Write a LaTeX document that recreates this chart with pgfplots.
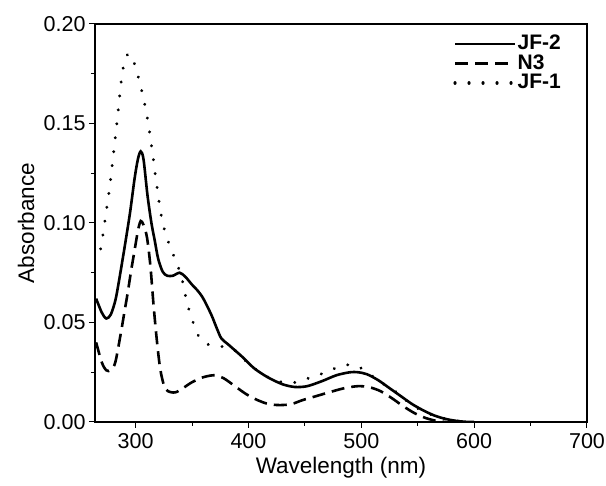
\documentclass[border=0pt]{standalone}
\usepackage{pgfplots}
\pgfplotsset{compat=1.18}
\usepackage{fontspec}
\setmainfont{Liberation Sans}
\begin{document}
\begin{tikzpicture}
\useasboundingbox (-95pt,-64pt) rectangle (511pt,422pt);
\begin{axis}[
  at={(0,0)}, anchor=south west,
  scale only axis, width=492pt, height=398pt,
  xmin=264, xmax=700, ymin=0, ymax=0.20,
  xtick={300,400,500,600,700},
  minor xtick={350,450,550,650},
  ytick={0,0.05,0.10,0.15,0.20},
  minor ytick={0.025,0.075,0.125,0.175},
  yticklabel style={/pgf/number format/.cd,fixed,fixed zerofill,precision=2},
  /pgf/number format/assume math mode=true,
  tick align=outside, xtick pos=left, ytick pos=left,
  major tick length=6pt, minor tick length=4pt,
  tick style={black, line width=1pt},
  axis line style={line width=1.2pt},
  tick label style={font=\fontsize{21.5}{25}\selectfont},
  label style={font=\fontsize{22.5}{27}\selectfont},
  xlabel={Wavelength (nm)}, ylabel={Absorbance},
  xlabel style={at={(axis description cs:0.5,0)}, anchor=center, yshift=-46pt},
  ylabel style={at={(axis description cs:-0.140,0.5)}, anchor=center},
  xticklabel style={yshift=-2pt},
  legend style={at={(axis description cs:1,1)}, anchor=north east, xshift=-22pt, yshift=-8pt,
    draw=none, fill=none, font=\fontsize{21}{25}\selectfont\bfseries,
    nodes={inner sep=1pt, text height=14.5pt, text depth=3pt}},
  legend cell align=left,
  legend image code/.code={\draw[#1] (0pt,0pt) -- (60pt,0pt);},
]
\addplot[black, line width=2.6pt, smooth] coordinates {
(265,0.062) (270,0.055) (274,0.052) (278,0.054) (282,0.061) (285,0.070) (290,0.087)
(295,0.105) (299,0.122) (302,0.132) (304.5,0.136) (307,0.132) (310.5,0.114) (314,0.100)
(317,0.091) (320,0.082) (324,0.0755) (328,0.0735) (333,0.0735) (339,0.075) (344,0.073)
(350,0.069) (355,0.066) (360,0.062) (367,0.054) (372,0.047) (376,0.042) (382,0.039)
(388,0.036) (395,0.0325) (405,0.027) (417,0.0225) (430,0.019) (441,0.0176) (452,0.018)
(465,0.0205) (478,0.0235) (490,0.025) (497,0.025) (505,0.024) (515,0.021) (525,0.017)
(535,0.013) (545,0.009) (555,0.0058) (565,0.0032) (575,0.0015) (585,0.0005) (595,0) (600,0)
};
\addlegendentry{JF-2}
\addplot[black, line width=2.6pt, dash pattern=on 13pt off 7pt, smooth] coordinates {
(265,0.040) (270,0.030) (274,0.026) (278,0.026) (282,0.030) (287,0.045) (290,0.055)
(293,0.065) (296,0.076) (299,0.086) (302,0.096) (304.5,0.101) (307,0.099) (310,0.093)
(313,0.079) (316,0.058) (319,0.040) (322,0.026) (326,0.017) (331,0.015) (336,0.015)
(342,0.017) (350,0.020) (360,0.0225) (370,0.0235) (378,0.022) (388,0.018) (398,0.014)
(408,0.011) (418,0.009) (428,0.0085) (438,0.009) (448,0.011) (460,0.013) (472,0.015)
(485,0.017) (497,0.018) (507,0.0175) (517,0.0155) (527,0.012) (537,0.008) (547,0.0045)
(557,0.002) (567,0.0005) (575,0)
};
\addlegendentry{N3}
\addplot[black, line width=3.2pt, line cap=round, dash pattern=on 0.01pt off 14pt, smooth] coordinates {
(269,0.087) (271,0.094) (274,0.106) (277,0.118) (280,0.133) (283,0.148) (285,0.159)
(287,0.170) (289,0.178) (292,0.184) (295,0.185) (299,0.180) (303,0.172) (306,0.165)
(309,0.157) (311.5,0.149) (313.5,0.141) (315.5,0.133) (317.5,0.124) (319.5,0.116)
(321.5,0.108) (324,0.100) (327.5,0.093) (332,0.086) (337,0.079) (341,0.072) (344,0.064)
(347,0.057) (351,0.050) (355,0.044) (360,0.040) (366,0.0387) (375,0.038) (382,0.0375)
(388,0.036) (395,0.032) (405,0.027) (417,0.0226) (430,0.020) (443,0.020) (456,0.0226)
(469,0.025) (481,0.028) (492,0.0288) (500,0.027) (506,0.0246) (515,0.021) (525,0.017)
(532,0.0146) (545,0.0085) (555,0.0055) (565,0.003) (575,0.0015) (585,0.0005) (595,0)
};
\addlegendentry{JF-1}
\end{axis}
\end{tikzpicture}
\end{document}
